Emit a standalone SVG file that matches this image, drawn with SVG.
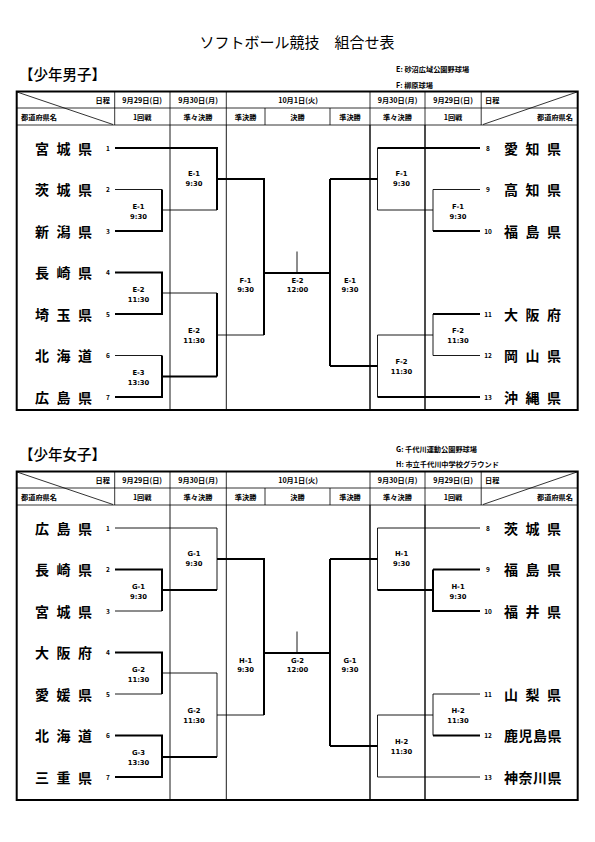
<svg xmlns="http://www.w3.org/2000/svg" width="595" height="842" viewBox="0 0 595 842">
<style>
text{font-family:"Noto Sans CJK JP","Liberation Sans",sans-serif;fill:#000}
.title{font-size:15px;font-weight:400}
.sec{font-size:14.5px;font-weight:500}
.leg{font-size:7.2px;font-weight:700}
.hd{font-size:7.2px;font-weight:700}
.nm{font-size:14px;font-weight:700}
.no{font-size:6.5px;font-weight:700;text-anchor:middle}
.lb{font-size:6.8px;font-weight:700;text-anchor:middle;font-family:"DejaVu Sans","Liberation Sans",sans-serif}
.m{text-anchor:middle}
.e{text-anchor:end}
.frame{fill:none;stroke:#000;stroke-width:2}
.g1{stroke:#000;stroke-width:0.8;fill:none}
.g2{stroke:#000;stroke-width:1.4;fill:none}
.k{stroke:#000;stroke-width:2;fill:none}
.t{stroke:#000;stroke-width:0.9;fill:none}
</style>

<text class="title m" x="297" y="48">ソフトボール競技　組合せ表</text>

<!-- ===== BOYS ===== -->
<g id="boys-header">
<text class="sec" x="19" y="80">【少年男子】</text>
<text class="leg" x="396" y="72">E: 砂沼広域公園野球場</text>
<text class="leg" x="396" y="88">F: 柳原球場</text>
<rect class="frame" x="16.7" y="91.5" width="561" height="318.5"/>
<path class="g1" d="M16.7 108H577.7M16.7 125H577.7M114.7 91.5V125M481.2 91.5V125M265 108V125M330 108V125M170 91.5V125M226.3 91.5V125M370 91.5V125M425 91.5V125"/>
<path class="g1" d="M17 92L113 124.5M483 124.5L577 92"/>
<text class="hd e" x="110" y="102.5">日程</text>
<text class="hd m" x="142.2" y="102.5">9月29日(日)</text>
<text class="hd m" x="198" y="102.5">9月30日(月)</text>
<text class="hd m" x="298" y="102.5">10月1日(火)</text>
<text class="hd m" x="397.5" y="102.5">9月30日(月)</text>
<text class="hd m" x="453" y="102.5">9月29日(日)</text>
<text class="hd" x="485" y="102.5">日程</text>
<text class="hd" x="21" y="119.5">都道府県名</text>
<text class="hd m" x="142.2" y="119.5">1回戦</text>
<text class="hd m" x="198" y="119.5">準々決勝</text>
<text class="hd m" x="245.6" y="119.5">準決勝</text>
<text class="hd m" x="297.5" y="119.5">決勝</text>
<text class="hd m" x="350" y="119.5">準決勝</text>
<text class="hd m" x="397.5" y="119.5">準々決勝</text>
<text class="hd m" x="453" y="119.5">1回戦</text>
<text class="hd e" x="573" y="119.5">都道府県名</text>
<path class="t" d="M170 125V410M226.3 125V410"/>
<path class="g2" d="M370 125V410M425 125V410"/>
</g>

<g id="boys-teams">
<g id="b1"><text class="nm" x="35 56.5 78" y="153.5">宮城県</text><text class="no" x="108" y="150.5">1</text></g>
<g id="b2"><text class="nm" x="35 56.5 78" y="195">茨城県</text><text class="no" x="108" y="192">2</text></g>
<g id="b3"><text class="nm" x="35 56.5 78" y="236.5">新潟県</text><text class="no" x="108" y="233.5">3</text></g>
<g id="b4"><text class="nm" x="35 56.5 78" y="278">長崎県</text><text class="no" x="108" y="275">4</text></g>
<g id="b5"><text class="nm" x="35 56.5 78" y="319.5">埼玉県</text><text class="no" x="108" y="316.5">5</text></g>
<g id="b6"><text class="nm" x="35 56.5 78" y="361">北海道</text><text class="no" x="108" y="358">6</text></g>
<g id="b7"><text class="nm" x="35 56.5 78" y="402.5">広島県</text><text class="no" x="108" y="399.5">7</text></g>
<g id="b8"><text class="nm" x="504 525.5 547" y="153.5">愛知県</text><text class="no" x="488" y="150.5">8</text></g>
<g id="b9"><text class="nm" x="504 525.5 547" y="195">高知県</text><text class="no" x="488" y="192">9</text></g>
<g id="b10"><text class="nm" x="504 525.5 547" y="236.5">福島県</text><text class="no" x="488" y="233.5">10</text></g>
<g id="b11"><text class="nm" x="504 525.5 547" y="319.5">大阪府</text><text class="no" x="488" y="316.5">11</text></g>
<g id="b12"><text class="nm" x="504 525.5 547" y="361">岡山県</text><text class="no" x="488" y="358">12</text></g>
<g id="b13"><text class="nm" x="504 525.5 547" y="402.5">沖縄県</text><text class="no" x="488" y="399.5">13</text></g>
</g>

<g id="boys-matches">
<g id="bE1r1"><text class="lb" x="138.5" y="208.5">E-1</text><text class="lb" x="138.5" y="218.5">9:30</text></g>
<g id="bE2r1"><text class="lb" x="138.5" y="291.5">E-2</text><text class="lb" x="138.5" y="301.5">11:30</text></g>
<g id="bE3r1"><text class="lb" x="138.5" y="375">E-3</text><text class="lb" x="138.5" y="385">13:30</text></g>
<g id="bE1qf"><text class="lb" x="194" y="175.5">E-1</text><text class="lb" x="194" y="185.5">9:30</text></g>
<g id="bE2qf"><text class="lb" x="194" y="333">E-2</text><text class="lb" x="194" y="343">11:30</text></g>
<g id="bF1sf"><text class="lb" x="245.6" y="282.5">F-1</text><text class="lb" x="245.6" y="292">9:30</text></g>
<g id="bE2f"><text class="lb" x="297.5" y="282.5">E-2</text><text class="lb" x="297.5" y="292">12:00</text></g>
<g id="bE1sf"><text class="lb" x="350" y="282.5">E-1</text><text class="lb" x="350" y="292">9:30</text></g>
<g id="bF1qf"><text class="lb" x="401.5" y="175.5">F-1</text><text class="lb" x="401.5" y="185.5">9:30</text></g>
<g id="bF2qf"><text class="lb" x="401.5" y="364">F-2</text><text class="lb" x="401.5" y="374">11:30</text></g>
<g id="bF1r1"><text class="lb" x="458" y="208.5">F-1</text><text class="lb" x="458" y="218.5">9:30</text></g>
<g id="bF2r1"><text class="lb" x="458" y="333">F-2</text><text class="lb" x="458" y="343">11:30</text></g>
</g>

<g id="boys-connectors">
<path class="k" d="M115 148H217V210M115 231H162V189.5M217 179H264V335M115 272.5H162V314H115M217 293V376.5M115 397H162V355.5M162 376.5H217M264 273H330M330 179V366M330 179H377.5M330 366H377.5M377.5 148H480M433 231H480M433 314H480M377.5 397H480"/>
<path class="t" d="M115 189.5H162M162 210H217M162 293H217M115 355.5H162M217 335H264M297 251.5V273M377.5 148V210H433M433 189.5H480M433 189.5V231M433 314V355.5H480M377.5 335H433M377.5 335V397"/>
</g>

<!-- ===== GIRLS ===== -->
<g id="girls-header">
<text class="sec" x="19" y="460">【少年女子】</text>
<text class="leg" x="396" y="452">G: 千代川運動公園野球場</text>
<text class="leg" x="396" y="467">H: 市立千代川中学校グラウンド</text>
<rect class="frame" x="16.7" y="471.5" width="561" height="328.5"/>
<path class="g1" d="M16.7 488H577.7M16.7 505H577.7M114.7 471.5V505M481.2 471.5V505M265 488V505M330 488V505M170 471.5V505M226.3 471.5V505M370 471.5V505M425 471.5V505"/>
<path class="g1" d="M17 472L113 504.5M483 504.5L577 472"/>
<text class="hd e" x="110" y="482.5">日程</text>
<text class="hd m" x="142.2" y="482.5">9月29日(日)</text>
<text class="hd m" x="198" y="482.5">9月30日(月)</text>
<text class="hd m" x="298" y="482.5">10月1日(火)</text>
<text class="hd m" x="397.5" y="482.5">9月30日(月)</text>
<text class="hd m" x="453" y="482.5">9月29日(日)</text>
<text class="hd" x="485" y="482.5">日程</text>
<text class="hd" x="21" y="499.5">都道府県名</text>
<text class="hd m" x="142.2" y="499.5">1回戦</text>
<text class="hd m" x="198" y="499.5">準々決勝</text>
<text class="hd m" x="245.6" y="499.5">準決勝</text>
<text class="hd m" x="297.5" y="499.5">決勝</text>
<text class="hd m" x="350" y="499.5">準決勝</text>
<text class="hd m" x="397.5" y="499.5">準々決勝</text>
<text class="hd m" x="453" y="499.5">1回戦</text>
<text class="hd e" x="573" y="499.5">都道府県名</text>
<path class="t" d="M170 505V800M226.3 505V800"/>
<path class="g2" d="M370 505V800M425 505V800"/>
</g>

<g id="girls-teams">
<g id="g1"><text class="nm" x="35 56.5 78" y="533.5">広島県</text><text class="no" x="108" y="530.5">1</text></g>
<g id="g2"><text class="nm" x="35 56.5 78" y="575">長崎県</text><text class="no" x="108" y="572">2</text></g>
<g id="g3"><text class="nm" x="35 56.5 78" y="616.5">宮城県</text><text class="no" x="108" y="613.5">3</text></g>
<g id="g4"><text class="nm" x="35 56.5 78" y="658">大阪府</text><text class="no" x="108" y="655">4</text></g>
<g id="g5"><text class="nm" x="35 56.5 78" y="699.5">愛媛県</text><text class="no" x="108" y="696.5">5</text></g>
<g id="g6"><text class="nm" x="35 56.5 78" y="741">北海道</text><text class="no" x="108" y="738">6</text></g>
<g id="g7"><text class="nm" x="35 56.5 78" y="782.5">三重県</text><text class="no" x="108" y="779.5">7</text></g>
<g id="g8"><text class="nm" x="504 525.5 547" y="533.5">茨城県</text><text class="no" x="488" y="530.5">8</text></g>
<g id="g9"><text class="nm" x="504 525.5 547" y="575">福島県</text><text class="no" x="488" y="572">9</text></g>
<g id="g10"><text class="nm" x="504 525.5 547" y="616.5">福井県</text><text class="no" x="488" y="613.5">10</text></g>
<g id="g11"><text class="nm" x="504 525.5 547" y="699.5">山梨県</text><text class="no" x="488" y="696.5">11</text></g>
<g id="g12"><text class="nm" x="504 518.5 533 547.5" y="741">鹿児島県</text><text class="no" x="488" y="738">12</text></g>
<g id="g13"><text class="nm" x="504 518.5 533 547.5" y="782.5">神奈川県</text><text class="no" x="488" y="779.5">13</text></g>
</g>

<g id="girls-matches">
<g id="gG1r1"><text class="lb" x="138.5" y="588.5">G-1</text><text class="lb" x="138.5" y="598.5">9:30</text></g>
<g id="gG2r1"><text class="lb" x="138.5" y="671.5">G-2</text><text class="lb" x="138.5" y="681.5">11:30</text></g>
<g id="gG3r1"><text class="lb" x="138.5" y="755">G-3</text><text class="lb" x="138.5" y="765">13:30</text></g>
<g id="gG1qf"><text class="lb" x="194" y="555.5">G-1</text><text class="lb" x="194" y="565.5">9:30</text></g>
<g id="gG2qf"><text class="lb" x="194" y="713">G-2</text><text class="lb" x="194" y="723">11:30</text></g>
<g id="gH1sf"><text class="lb" x="245.6" y="662.5">H-1</text><text class="lb" x="245.6" y="672">9:30</text></g>
<g id="gG2f"><text class="lb" x="297.5" y="662.5">G-2</text><text class="lb" x="297.5" y="672">12:00</text></g>
<g id="gG1sf"><text class="lb" x="350" y="662.5">G-1</text><text class="lb" x="350" y="672">9:30</text></g>
<g id="gH1qf"><text class="lb" x="401.5" y="555.5">H-1</text><text class="lb" x="401.5" y="565.5">9:30</text></g>
<g id="gH2qf"><text class="lb" x="401.5" y="744">H-2</text><text class="lb" x="401.5" y="754">11:30</text></g>
<g id="gH1r1"><text class="lb" x="458" y="588.5">H-1</text><text class="lb" x="458" y="598.5">9:30</text></g>
<g id="gH2r1"><text class="lb" x="458" y="713">H-2</text><text class="lb" x="458" y="723">11:30</text></g>
</g>

<g id="girls-connectors">
<path class="k" d="M115 569.5H162V611M162 590H217M217 559H264V715M115 652.5H162V694M162 757H217M115 735.5H162V777H115M264 653H330M330 559V746M330 559H377.5M330 746H377.5M377.5 590H433M433 569.5H480M433 569.5V611H480M433 735.5H480"/>
<path class="t" d="M115 528H217V590M115 611H162M115 694H162M162 673H217V757M217 715H264M297 631.5V653M377.5 528H480M377.5 528V590M433 694H480M433 694V735.5M377.5 715H433M377.5 715V777H480"/>
</g>
</svg>
